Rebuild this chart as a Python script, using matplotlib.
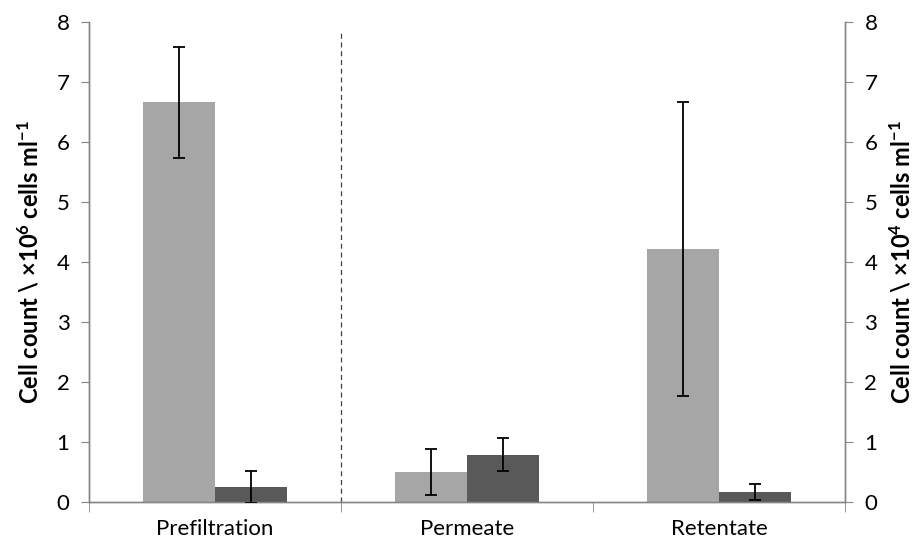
import matplotlib
matplotlib.use("Agg")
import matplotlib.pyplot as plt
import numpy as np

categories = ["Prefiltration", "Permeate", "Retentate"]
light_vals = [6.66, 0.50, 4.22]
light_err = [0.92, 0.38, 2.45]
dark_vals = [0.25, 0.79, 0.17]
dark_err = [0.27, 0.27, 0.13]
yticks = [0, 1, 2, 3, 4, 5, 6, 7, 8]

plt.rcParams['font.family'] = ['Lato', 'DejaVu Sans']
plt.rcParams['mathtext.default'] = 'regular'

fig = plt.figure(figsize=(9.23, 5.46), dpi=100)
ax = fig.add_axes([89/923, 44/546, (845-89)/923, (502-22)/546])
ax2 = ax.twinx()

x = np.arange(len(categories))
w = 1/3.5
light_c = '#A6A6A6'
dark_c = '#595959'
axis_c = '#868686'

ax.bar(x - w/2, light_vals, width=w, color=light_c, zorder=2)
ax.errorbar(x - w/2, light_vals, yerr=light_err, fmt='none', ecolor='black',
            elinewidth=1.3, capsize=4.5, capthick=1.3, zorder=3)
ax2.bar(x + w/2, dark_vals, width=w, color=dark_c, zorder=2)
ax2.errorbar(x + w/2, dark_vals, yerr=dark_err, fmt='none', ecolor='black',
             elinewidth=1.3, capsize=4.5, capthick=1.3, zorder=3)

for a in (ax, ax2):
    a.set_xlim(-0.5, 2.5)
    a.set_ylim(0, 8)
    a.set_yticks(yticks)
    a.spines['top'].set_visible(False)
    for s in ('left', 'right', 'bottom'):
        a.spines[s].set_color(axis_c)
        a.spines[s].set_linewidth(1.0)

ax.plot([0.5, 0.5], [0, 7.82], linestyle=(0, (4, 3)), color='#404040', linewidth=0.9, zorder=1)

ax.set_xticks(x)
ax.set_xticklabels(categories, fontsize=16)
ax.set_xticks([-0.5, 0.5, 1.5, 2.5], minor=True)
ax.tick_params(axis='x', which='major', length=0, pad=12)
ax.tick_params(axis='x', which='minor', length=7, color=axis_c, direction='out')
ax.tick_params(axis='y', length=6, color=axis_c, labelsize=16, pad=8)
ax2.tick_params(axis='y', length=6, color=axis_c, labelsize=16, pad=8)

ax.set_ylabel(r'Cell count \ ×10$^{6}$ cells ml$^{-1}$', fontsize=17, fontweight='bold', labelpad=10)
ax2.set_ylabel(r'Cell count \ ×10$^{4}$ cells ml$^{-1}$', fontsize=17, fontweight='bold', labelpad=8)

fig.savefig('out.png', dpi=100)
